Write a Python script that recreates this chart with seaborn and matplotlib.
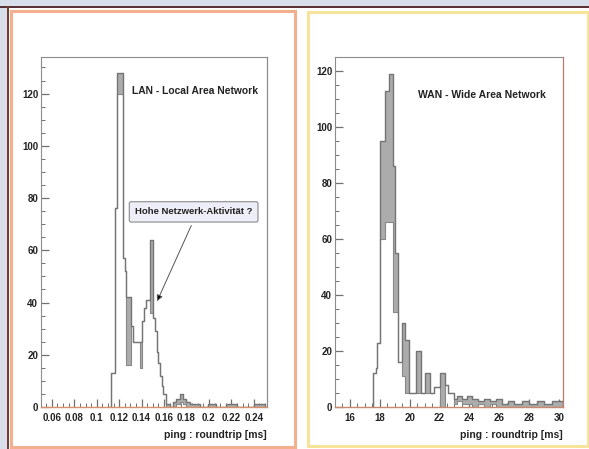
import matplotlib
matplotlib.use("Agg")
import matplotlib.pyplot as plt
from matplotlib.patches import Rectangle
from matplotlib.ticker import MultipleLocator, FixedLocator
import seaborn as sns
import pandas as pd

# LAN histogram: bin edges, lower and upper envelope of the fine-binned counts
lan_edges = [0.1130, 0.1163, 0.1177, 0.1185, 0.1235, 0.1250, 0.1265, 0.1305, 0.1320,
             0.1384, 0.1405, 0.1423, 0.1443, 0.1473, 0.1503, 0.1518, 0.1533, 0.1548,
             0.1563, 0.1578, 0.1593, 0.1621, 0.1650, 0.1680, 0.1710, 0.1740, 0.1770,
             0.1800, 0.1830, 0.1870, 0.1920, 0.1990, 0.2060, 0.2150, 0.2250, 0.2400, 0.2500]
lan_high = [13, 76, 120, 128, 57, 52, 42, 31, 25, 25, 33, 38, 41, 64, 34, 29, 21, 17,
            12, 8, 5, 1, 0, 2, 3, 5, 3, 2, 1, 1, 0, 1, 0, 1, 0, 1]
lan_low = [13, 76, 120, 120, 57, 52, 16, 31, 25, 15, 33, 38, 41, 36, 34, 29, 21, 17,
           12, 8, 5, 0, 0, 0, 1, 2, 1, 0, 0, 0, 0, 0, 0, 0, 0, 0]

# WAN histogram
wan_edges = [17.56, 17.75, 17.80, 18.00, 18.35, 18.63, 18.86, 19.05, 19.25, 19.46,
             19.72, 19.95, 20.40, 20.75, 21.05, 21.35, 21.60, 22.03, 22.35, 22.55,
             22.95, 23.20, 23.50, 23.85, 24.20, 24.60, 25.00, 25.40, 25.80, 26.20,
             26.60, 27.00, 27.50, 28.00, 28.50, 29.00, 29.50, 30.25]
wan_high = [12, 14, 23, 95, 113, 119, 86, 55, 16, 30, 24, 5, 20, 5, 12, 5, 7, 12, 8, 5,
            3, 4, 3, 4, 3, 2, 3, 2, 3, 1, 2, 1, 2, 1, 2, 1, 2]
wan_low = [12, 14, 23, 60, 66, 66, 34, 34, 16, 11, 5, 5, 5, 5, 5, 5, 7, 0, 8, 5,
           1, 2, 1, 1, 0, 1, 0, 1, 0, 0, 0, 0, 0, 0, 0, 0, 0]

lan_ticks = [0.06, 0.08, 0.1, 0.12, 0.14, 0.16, 0.18, 0.2, 0.22, 0.24]
wan_ticks = [16, 18, 20, 22, 24, 26, 28, 30]
y_ticks = [0, 20, 40, 60, 80, 100, 120]

W, H = 589, 449

sns.set_style("white")
plt.rcParams['font.family'] = ['Liberation Sans', 'DejaVu Sans']
plt.rcParams['font.weight'] = 'bold'

fig = plt.figure(figsize=(W / 100, H / 100), dpi=100, facecolor='white')


def px_rect(x0, y0, x1, y1, **kw):
    # rectangle given in pixel coordinates (origin top-left), drawn behind the axes
    fig.patches.append(Rectangle((x0 / W, 1 - y1 / H), (x1 - x0) / W, (y1 - y0) / H,
                                 transform=fig.transFigure, figure=fig, zorder=-5, **kw))


# page background decoration
px_rect(0, 0, W, 6, facecolor='#d8deea', edgecolor='none')
px_rect(0, 0, 7, H, facecolor='#d8deea', edgecolor='none')
px_rect(0, 6, W, 7.5, facecolor='#5a3434', edgecolor='none')
px_rect(7, 6, 8.5, H, facecolor='#7a3a30', edgecolor='none')
px_rect(11, 11, 295, 447, facecolor='white', edgecolor='#f2b08e', linewidth=2.2)
px_rect(308, 12, 588, 446, facecolor='white', edgecolor='#f6e49a', linewidth=2.2)


def draw_hist(ax, edges, low, high):
    # pad with an empty bin on each side so the outline drops to zero
    step = (edges[1] - edges[0]) * 0.5
    e = [edges[0] - step] + list(edges) + [edges[-1] + step]
    hi = [0] + list(high) + [0]
    lo = [0] + list(low) + [0]
    centers = [(a + b) / 2 for a, b in zip(e[:-1], e[1:])]
    df = pd.DataFrame({'x': centers, 'hi': hi, 'lo': lo})
    ax.stairs(hi, e, baseline=lo, fill=True, color='#acacac', linewidth=0)
    sns.histplot(data=df, x='x', weights='lo', bins=e, element='step',
                 fill=False, color='#888888', linewidth=0.8, ax=ax)
    sns.histplot(data=df, x='x', weights='hi', bins=e, element='step',
                 fill=False, color='#747474', linewidth=1.0, ax=ax)


def style_axes(ax, bottom_color, right_color):
    for side in ['left', 'top']:
        ax.spines[side].set_color('#8c8c8c')
        ax.spines[side].set_linewidth(0.8)
    ax.spines['right'].set_color(right_color)
    ax.spines['right'].set_linewidth(0.9)
    ax.spines['bottom'].set_color(bottom_color)
    ax.spines['bottom'].set_linewidth(1.0)
    ax.yaxis.set_major_locator(FixedLocator(y_ticks))
    ax.yaxis.set_minor_locator(MultipleLocator(5))
    ax.tick_params(axis='both', which='both', direction='in', color='#707070',
                   top=False, right=False, left=True, bottom=True,
                   labelsize=7, labelcolor='#222222')
    ax.tick_params(axis='both', which='major', length=5.5, width=0.9)
    ax.tick_params(axis='both', which='minor', length=3, width=0.7)
    ax.tick_params(axis='y', pad=2)
    ax.tick_params(axis='x', pad=4)
    ax.set_xlabel('')
    ax.set_ylabel('')
    ax.grid(False)
    ax.set_facecolor('white')
    ax.text(1.0, -0.08, 'ping : roundtrip [ms]', transform=ax.transAxes,
            ha='right', va='center', fontsize=7.5, fontweight='bold', color='#222222')


# LAN panel
ax1 = fig.add_axes([41 / W, 1 - 407 / H, 226 / W, 350 / H])
draw_hist(ax1, lan_edges, lan_low, lan_high)
ax1.set_xlim(0.0503, 0.2518)
ax1.xaxis.set_major_locator(FixedLocator(lan_ticks))
ax1.xaxis.set_minor_locator(MultipleLocator(0.005))
ax1.set_xticklabels([f'{t:g}' for t in lan_ticks])
style_axes(ax1, '#d98e6c', '#8c8c8c')
ax1.set_ylim(0, 134)
ax1.text(0.1318, 121, 'LAN - Local Area Network', ha='left', va='center',
         fontsize=7.4, fontweight='bold', color='#222222')
ax1.annotate('', xy=(0.1538, 40.5), xytext=(0.1843, 69.5),
             arrowprops=dict(arrowstyle='-|>', color='#555555', lw=0.7,
                             mutation_scale=9, fc='black', shrinkA=0, shrinkB=0))
ax1.text(0.1864, 74.7, 'Hohe Netzwerk-Aktivität ?', ha='center', va='center',
         fontsize=6.8, fontweight='bold', color='#222222',
         bbox=dict(boxstyle='round,pad=0.6,rounding_size=0.2', fc='#eeeef8',
                   ec='#8a8a8a', lw=0.8))

# WAN panel
ax2 = fig.add_axes([335 / W, 1 - 407 / H, 228 / W, 350 / H])
draw_hist(ax2, wan_edges, wan_low, wan_high)
ax2.set_xlim(15.0, 30.27)
ax2.xaxis.set_major_locator(FixedLocator(wan_ticks))
ax2.xaxis.set_minor_locator(MultipleLocator(0.5))
style_axes(ax2, '#c98870', '#b97c6a')
ax2.set_ylim(0, 125)
ax2.text(20.56, 111.4, 'WAN - Wide Area Network', ha='left', va='center',
         fontsize=7.5, fontweight='bold', color='#222222')

fig.savefig('out.png', dpi=100, facecolor=fig.get_facecolor())
